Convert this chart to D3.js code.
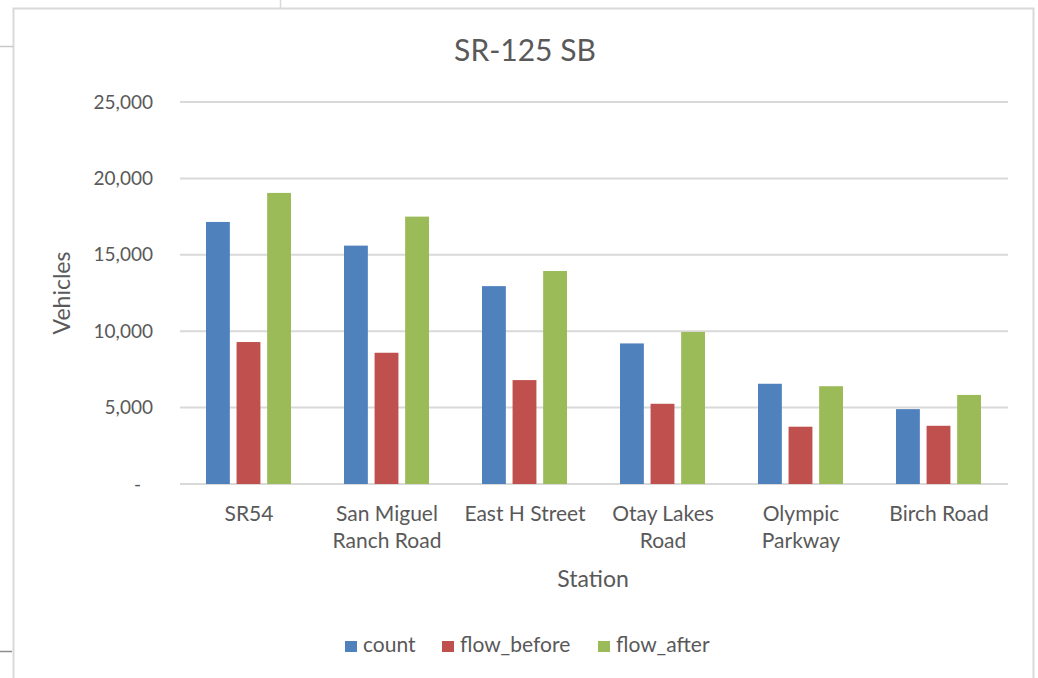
<!DOCTYPE html>
<html>
<head>
<meta charset="utf-8">
<script src="https://cdn.jsdelivr.net/npm/d3@7"></script>
<style>
  html, body { margin: 0; padding: 0; background: #fff; }
  svg { display: block; }
  text { font-family: Lato, "Open Sans", sans-serif; fill: #595959; }
</style>
</head>
<body>
<svg id="chart" width="1038" height="678"></svg>
<script>
// Station names (line breaks mark wrapped labels)
const stations = ["SR54", "San Miguel\nRanch Road", "East H Street", "Otay Lakes\nRoad", "Olympic\nParkway", "Birch Road"];
const seriesNames = ["count", "flow_before", "flow_after"];
const countValues = [17150, 15600, 12950, 9200, 6560, 4900];
const flowBeforeValues = [9290, 8590, 6800, 5250, 3750, 3810];
const flowAfterValues = [19050, 17500, 13940, 9950, 6400, 5830];
const yTicks = [0, 5000, 10000, 15000, 20000, 25000];
const colors = ["#4f81bd", "#c0504d", "#9bbb59"];

const seriesValues = [countValues, flowBeforeValues, flowAfterValues];
const rows = stations.map((s, i) => ({
  station: s,
  values: seriesNames.map((n, j) => ({ key: n, value: seriesValues[j][i] }))
}));

const svg = d3.select("#chart");

// Outer frame
const frame = svg.append("g").attr("fill", "none");
frame.append("path").attr("d", "M13.5,678 V8.5 H1033.5 V678").attr("stroke", "#d9d9d9").attr("stroke-width", 2);
frame.append("line").attr("x1", 280.5).attr("x2", 280.5).attr("y1", 0).attr("y2", 8).attr("stroke", "#d9d9d9").attr("stroke-width", 1.5);
frame.append("line").attr("x1", 0).attr("x2", 13).attr("y1", 46.5).attr("y2", 46.5).attr("stroke", "#c8c8c8").attr("stroke-width", 1.5);
frame.append("line").attr("x1", 0).attr("x2", 12).attr("y1", 651.5).attr("y2", 651.5).attr("stroke", "#8c8c8c").attr("stroke-width", 1.5);

const x0 = d3.scaleBand().domain(stations).range([180, 1008]);
const x1 = d3.scaleBand().domain(seriesNames).range([26, 111]).paddingInner(0.22);
const y = d3.scaleLinear().domain([0, 25000]).range([484, 102]);

// Horizontal gridlines
svg.append("g")
  .selectAll("line")
  .data(yTicks)
  .join("line")
  .attr("x1", 180).attr("x2", 1008)
  .attr("y1", d => y(d)).attr("y2", d => y(d))
  .attr("stroke", "#d9d9d9").attr("stroke-width", 2);

// Y axis labels
const yAxis = svg.append("g")
  .attr("transform", "translate(153,0)")
  .call(d3.axisLeft(y).tickValues(yTicks).tickSize(0).tickPadding(0)
    .tickFormat(d => d === 0 ? "-" : d3.format(",")(d)));
yAxis.select(".domain").remove();
yAxis.selectAll("text")
  .attr("font-size", 19)
  .attr("font-family", "Lato, sans-serif")
  .attr("fill", "#595959")
  .attr("dx", d => d === 0 ? -12 : 0);

// Bars
const groups = svg.append("g")
  .selectAll("g")
  .data(rows)
  .join("g")
  .attr("transform", d => `translate(${x0(d.station)},0)`);
groups.selectAll("rect")
  .data(d => d.values)
  .join("rect")
  .attr("x", d => x1(d.key))
  .attr("width", x1.bandwidth())
  .attr("y", d => y(d.value))
  .attr("height", d => y(0) - y(d.value))
  .attr("fill", (d, i) => colors[i]);

// Category labels
const catLabels = svg.append("g")
  .selectAll("text")
  .data(stations)
  .join("text")
  .attr("x", d => x0(d) + x0.bandwidth() / 2)
  .attr("y", 521)
  .attr("text-anchor", "middle")
  .attr("font-size", 21);
catLabels.selectAll("tspan")
  .data(d => d.split("\n"))
  .join("tspan")
  .attr("x", function () { return d3.select(this.parentNode).attr("x"); })
  .attr("dy", (d, i) => i === 0 ? 0 : 27)
  .text(d => d);

// Title
svg.append("text")
  .attr("x", 525).attr("y", 61)
  .attr("text-anchor", "middle")
  .attr("font-size", 30)
  .text("SR-125 SB");

// Axis titles
svg.append("text")
  .attr("x", 593).attr("y", 587)
  .attr("text-anchor", "middle")
  .attr("font-size", 23)
  .text("Station");
svg.append("text")
  .attr("transform", "translate(70,293) rotate(-90)")
  .attr("text-anchor", "middle")
  .attr("font-size", 23)
  .text("Vehicles");

// Legend
const legendX = [345, 442, 598];
const legend = svg.append("g")
  .selectAll("g")
  .data(seriesNames)
  .join("g")
  .attr("transform", (d, i) => `translate(${legendX[i]},641)`);
legend.append("rect").attr("width", 12).attr("height", 11).attr("fill", (d, i) => colors[i]);
legend.append("text").attr("x", 18).attr("y", 11).attr("font-size", 21).text(d => d);
</script>
</body>
</html>
